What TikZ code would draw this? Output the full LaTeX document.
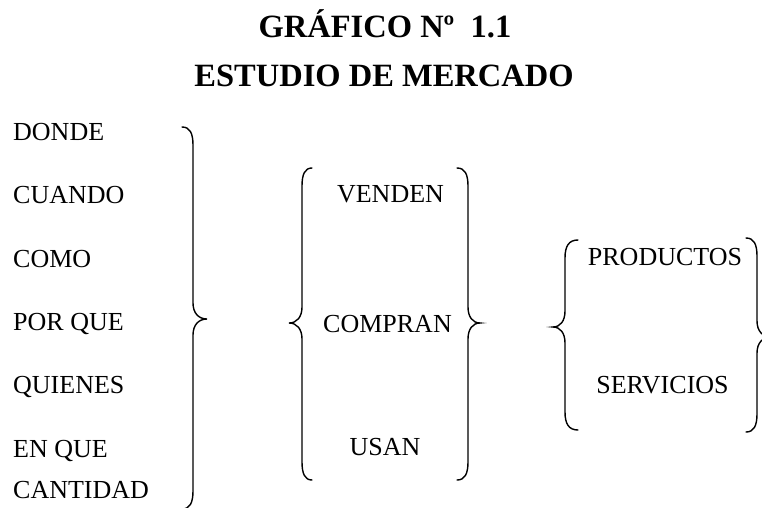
\documentclass[tikz,border=0pt]{standalone}
\usepackage{fontspec}
\setmainfont{Liberation Serif}
\tikzset{
  bracestyle/.style={line width=1.4pt, line cap=round, black},
  item/.style={inner sep=0pt, font=\fontsize{26}{30}\selectfont},
  leftitem/.style={item, anchor=base west},
  miditem/.style={item, anchor=base},
  titletext/.style={inner sep=0pt, anchor=base, font=\fontsize{32.5}{38}\selectfont\bfseries}
}
\newcommand{\mybrace}[6]{%
  \pgfmathsetmacro\brV{#1}\pgfmathsetmacro\brH{#2}\pgfmathsetmacro\brT{#3}%
  \pgfmathsetmacro\brA{#4}\pgfmathsetmacro\brM{#5}\pgfmathsetmacro\brB{#6}%
  \draw[bracestyle] (\brH,\brA) .. controls ({\brH+0.7*(\brV-\brH)},\brA) and (\brV,{\brA+6}) .. (\brV,{\brA+18})
    -- (\brV,{\brM-16}) .. controls (\brV,{\brM-6}) and ({\brV+0.4*(\brT-\brV)},\brM) .. (\brT,\brM)
    .. controls ({\brV+0.4*(\brT-\brV)},\brM) and (\brV,{\brM+6}) .. (\brV,{\brM+16})
    -- (\brV,{\brB-18}) .. controls (\brV,{\brB-6}) and ({\brH+0.7*(\brV-\brH)},\brB) .. (\brH,\brB);
}
\begin{document}
\begin{tikzpicture}[x=1pt,y=-1pt]
\useasboundingbox (0,0) rectangle (762,508);
\clip (0,0) rectangle (762,508);
% titles
\node[titletext] (t1) at (385,38) {GRÁFICO Nº\ \ 1.1};
\node[titletext] (t2) at (384,87) {ESTUDIO DE MERCADO};
% left column
\node[leftitem] (donde) at (13,140) {DONDE};
\node[leftitem] (cuando) at (13,203) {CUANDO};
\node[leftitem] (como) at (13,267) {COMO};
\node[leftitem] (porque) at (13,330) {POR QUE};
\node[leftitem] (quienes) at (13,393) {QUIENES};
\node[leftitem] (enque) at (13,457) {EN QUE};
\node[leftitem] (cantidad) at (13,498) {CANTIDAD};
% middle column
\node[miditem] (venden) at (390.5,202) {VENDEN};
\node[miditem] (compran) at (387.5,332) {COMPRAN};
\node[miditem] (usan) at (385,455) {USAN};
% right column
\node[miditem] (productos) at (665,265) {PRODUCTOS};
\node[miditem] (servicios) at (662.5,393) {SERVICIOS};
% braces
\mybrace{193}{182}{207}{127}{319}{509}
\mybrace{302}{312}{289}{168}{323}{480}
\mybrace{468}{457}{480}{168}{323}{480}
\mybrace{565}{578}{553}{240}{327}{430}
\mybrace{757}{746}{771}{238}{337}{432}
\end{tikzpicture}
\end{document}
